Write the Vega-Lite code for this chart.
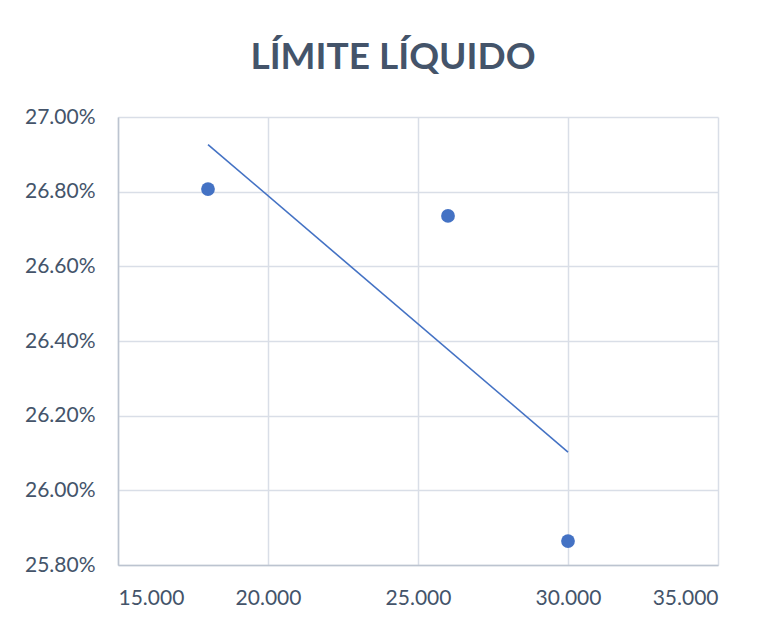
{
  "$schema": "https://vega.github.io/schema/vega-lite/v6.json",
  "width": 600,
  "height": 448,
  "autosize": {"type": "none"},
  "padding": {"left": 118, "top": 117, "right": 53, "bottom": 54},
  "background": "white",
  "title": {
    "text": "LÍMITE LÍQUIDO",
    "font": "Lato",
    "fontSize": 37,
    "fontWeight": "bold",
    "color": "#44546A",
    "anchor": "middle",
    "frame": "group",
    "dx": -25,
    "offset": 29
  },
  "data": {
    "values": [
      {"x": 18, "y": 0.26807},
      {"x": 26, "y": 0.26735},
      {"x": 30, "y": 0.25864}
    ]
  },
  "config": {
    "view": {"stroke": null},
    "axis": {
      "labelFont": "Lato",
      "labelFontSize": 21,
      "labelColor": "#44546A",
      "gridColor": "#D9DEE7",
      "gridWidth": 1.5,
      "ticks": false,
      "title": null,
      "domainColor": "#BCC4D0",
      "domainWidth": 1.5
    }
  },
  "layer": [
    {
      "mark": {"type": "line", "color": "#4472C4", "strokeWidth": 1.6},
      "transform": [{"regression": "y", "on": "x"}],
      "encoding": {
        "x": {"field": "x", "type": "quantitative"},
        "y": {"field": "y", "type": "quantitative"}
      }
    },
    {
      "mark": {"type": "circle", "color": "#4472C4", "opacity": 1, "size": 190},
      "encoding": {
        "x": {
          "field": "x",
          "type": "quantitative",
          "scale": {"domain": [15, 35], "nice": false, "zero": false},
          "axis": {"values": [15, 20, 25, 30, 35], "format": ".3f", "labelPadding": 22, "domainColor": "#BCC4D0"}
        },
        "y": {
          "field": "y",
          "type": "quantitative",
          "scale": {"domain": [0.258, 0.27], "nice": false, "zero": false},
          "axis": {"values": [0.258, 0.26, 0.262, 0.264, 0.266, 0.268, 0.27], "format": ".2%", "labelPadding": 23}
        }
      }
    }
  ]
}
